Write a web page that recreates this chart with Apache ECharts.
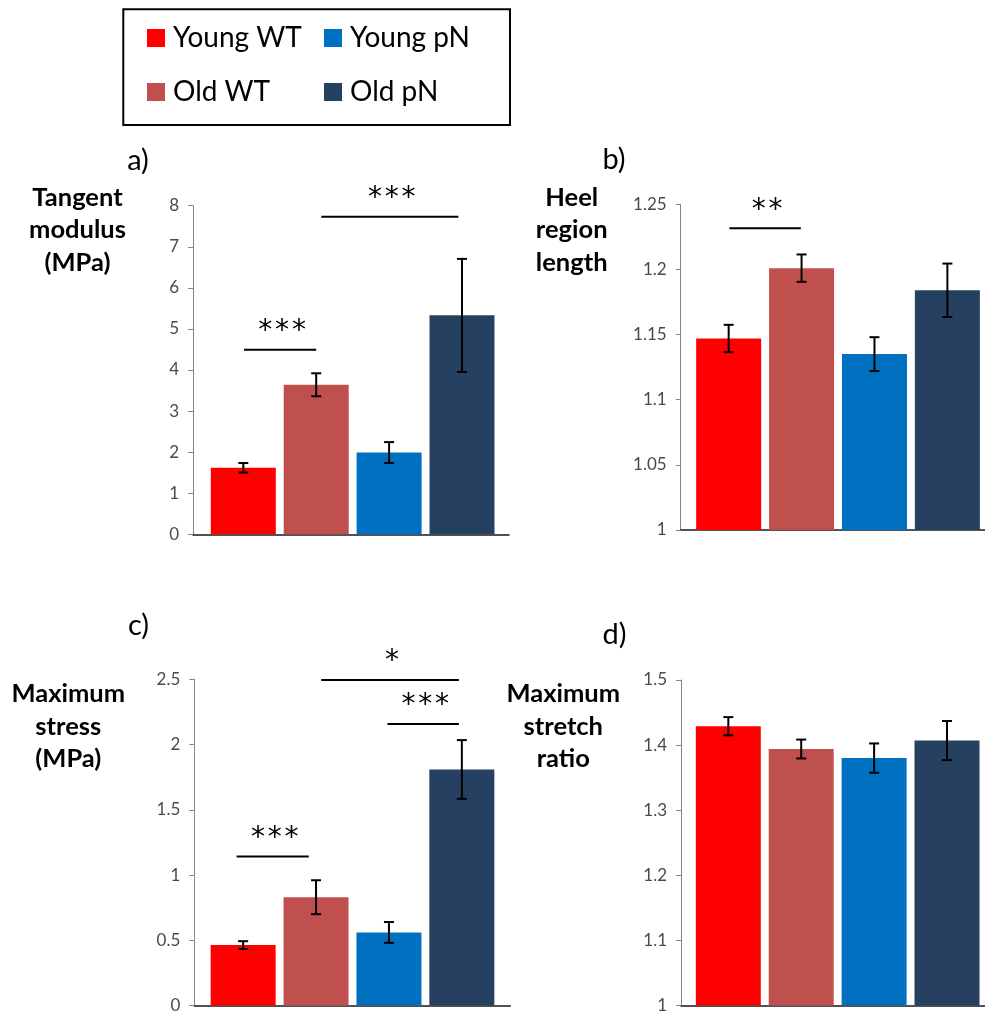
<!DOCTYPE html>
<html>
<head>
<meta charset="utf-8">
<script src="https://cdn.jsdelivr.net/npm/echarts@6/dist/echarts.min.js"></script>
<style>
html,body{margin:0;padding:0;background:#fff;}
#main{width:985px;height:1014px;}
</style>
</head>
<body>
<div id="main"></div>
<script>
// ---- data ----
const groups = ['Young WT', 'Old WT', 'Young pN', 'Old pN'];
const legendOrder = ['Young WT', 'Young pN', 'Old WT', 'Old pN'];

const tangentModulus = [1.62, 3.64, 1.99, 5.33];
const tangentErr = [0.115, 0.28, 0.255, 1.375];

const heelLength = [1.147, 1.201, 1.135, 1.184];
const heelErr = [0.0105, 0.0105, 0.013, 0.0205];

const maxStress = [0.463, 0.83, 0.56, 1.809];
const stressErr = [0.03, 0.13, 0.08, 0.225];

const maxStretch = [1.429, 1.394, 1.380, 1.407];
const stretchErr = [0.014, 0.0145, 0.0225, 0.030];

// significance brackets: [fromBar, toBar, level, stars]
const sigA = [[0.01, 1.0, 4.49, '***'], [1.07, 2.95, 7.73, '***']];
const sigB = [[0.01, 0.99, 1.2316, '**']];
const sigC = [[-0.09, 0.9, 1.141, '***'], [1.07, 2.96, 2.494, '*'], [1.98, 2.96, 2.158, '***']];
const sigD = [];

const panelLabels = ['a)', 'b)', 'c)', 'd)'];
const axisTitles = ['Tangent\nmodulus\n(MPa)', 'Heel\nregion\nlength', 'Maximum\nstress\n(MPa)', 'Maximum\nstretch\nratio'];
const yTicks = [
  {min: 0, max: 8, interval: 1},
  {min: 1, max: 1.25, interval: 0.05},
  {min: 0, max: 2.5, interval: 0.5},
  {min: 1, max: 1.5, interval: 0.1}
];

// ---- styles / layout ----
const colors = ['#FF0000', '#C0504D', '#0070C0', '#264061'];
const FONT = 'Lato, "Open Sans", sans-serif';
const W = 985;
const panels = [
  {values: tangentModulus, errs: tangentErr, sig: sigA, grid: {left: 193, top: 205.7, width: 316, height: 328.6}, xmin: -0.69,
   label: [138, 160.5], title: [77.5, 230]},
  {values: heelLength, errs: heelErr, sig: sigB, grid: {left: 680.7, top: 204.3, width: 316, height: 325.7}, xmin: -0.658,
   label: [614, 159.5], title: [571.7, 230]},
  {values: maxStress, errs: stressErr, sig: sigC, grid: {left: 194.3, top: 679.3, width: 316, height: 327}, xmin: -0.67,
   label: [138.5, 626], title: [68.3, 726.7]},
  {values: maxStretch, errs: stretchErr, sig: sigD, grid: {left: 681, top: 680, width: 316, height: 327.3}, xmin: -0.649,
   label: [614.5, 635], title: [563.3, 726.7]}
];
const PX_PER_BAR = 72.9;

const chart = echarts.init(document.getElementById('main'), null, {renderer: 'canvas'});

const grid = [], xAxis = [], yAxis = [], series = [], graphic = [];

panels.forEach((p, k) => {
  const gw = Math.min(p.grid.width, W - p.grid.left);
  grid.push({left: p.grid.left, top: p.grid.top, width: gw, height: p.grid.height, containLabel: false});
  xAxis.push({
    type: 'value', gridIndex: k, min: p.xmin, max: p.xmin + gw / PX_PER_BAR,
    axisLine: {show: true, onZero: false, lineStyle: {color: '#1a1a1a', width: 1.5}},
    axisTick: {show: false}, axisLabel: {show: false}, splitLine: {show: false}
  });
  yAxis.push({
    type: 'value', gridIndex: k, min: yTicks[k].min, max: yTicks[k].max, interval: yTicks[k].interval,
    axisLine: {show: true, onZero: false, lineStyle: {color: '#868686', width: 1}},
    axisTick: {show: true, inside: false, length: 5, lineStyle: {color: '#868686'}},
    axisLabel: {color: '#4a4a4a', fontSize: 17, fontFamily: FONT, margin: 14},
    splitLine: {show: false}
  });
  groups.forEach((g, i) => {
    series.push({
      type: 'bar', name: g, xAxisIndex: k, yAxisIndex: k,
      data: [[i, p.values[i]]],
      barWidth: 65, barGap: '-100%',
      itemStyle: {color: colors[i]},
      emphasis: {disabled: true},
      z: 2
    });
  });
  // error bars
  series.push({
    type: 'custom', xAxisIndex: k, yAxisIndex: k, z: 5, silent: true,
    data: p.values.map((v, i) => [i, v - p.errs[i], v + p.errs[i]]),
    renderItem: function (params, api) {
      const lo = api.coord([api.value(0), api.value(1)]);
      const hi = api.coord([api.value(0), api.value(2)]);
      const cw = 5;
      const st = {stroke: '#000', lineWidth: 2};
      return {type: 'group', children: [
        {type: 'line', shape: {x1: lo[0], y1: lo[1], x2: hi[0], y2: hi[1]}, style: st},
        {type: 'line', shape: {x1: lo[0] - cw, y1: lo[1], x2: lo[0] + cw, y2: lo[1]}, style: st},
        {type: 'line', shape: {x1: hi[0] - cw, y1: hi[1], x2: hi[0] + cw, y2: hi[1]}, style: st}
      ]};
    }
  });
  // significance brackets
  if (p.sig.length) {
    series.push({
      type: 'custom', xAxisIndex: k, yAxisIndex: k, z: 6, silent: true, clip: false,
      data: p.sig,
      renderItem: function (params, api) {
        const d = p.sig[params.dataIndex];
        const a = api.coord([d[0], d[2]]);
        const b = api.coord([d[1], d[2]]);
        return {type: 'group', children: [
          {type: 'line', shape: {x1: a[0], y1: a[1], x2: b[0], y2: b[1]}, style: {stroke: '#000', lineWidth: 2}},
          {type: 'text', x: (a[0] + b[0]) / 2 + 2, y: a[1] - 18,
           style: {text: d[3].split('').join('\u200A'), fontSize: 28, fontFamily: '"DejaVu Sans", sans-serif', fill: '#000',
                   align: 'center', verticalAlign: 'middle'}}
        ]};
      }
    });
  }
  graphic.push({type: 'text', x: p.label[0], y: p.label[1], silent: true,
    style: {text: panelLabels[k], fontSize: 29, fontFamily: FONT, fill: '#000', align: 'center', verticalAlign: 'middle'}});
  graphic.push({type: 'text', x: p.title[0], y: p.title[1], silent: true,
    style: {text: axisTitles[k], fontSize: 25.5, fontWeight: 'bold', fontFamily: FONT, fill: '#000',
            align: 'center', verticalAlign: 'middle', lineHeight: 32.5}});
});

// legend box
graphic.push({type: 'rect', shape: {x: 123.3, y: 9.3, width: 386.7, height: 115.7}, silent: true,
  style: {fill: 'none', stroke: '#000', lineWidth: 2}});

const legendBase = {
  orient: 'horizontal', padding: 0, itemWidth: 18, itemHeight: 18, icon: 'rect',
  selectedMode: false,
  textStyle: {fontSize: 28, fontFamily: FONT, color: '#000', lineHeight: 30, padding: [0, 0, 0, 3]}
};
const legendPos = [[147, 23], [324, 23], [147, 77], [324, 77]];
const legend = legendOrder.map((name, i) => Object.assign({}, legendBase, {data: [name], left: legendPos[i][0], top: legendPos[i][1]}));

chart.setOption({
  animation: false,
  backgroundColor: '#fff',
  legend: legend,
  grid: grid,
  xAxis: xAxis,
  yAxis: yAxis,
  series: series,
  graphic: graphic
});
</script>
</body>
</html>
